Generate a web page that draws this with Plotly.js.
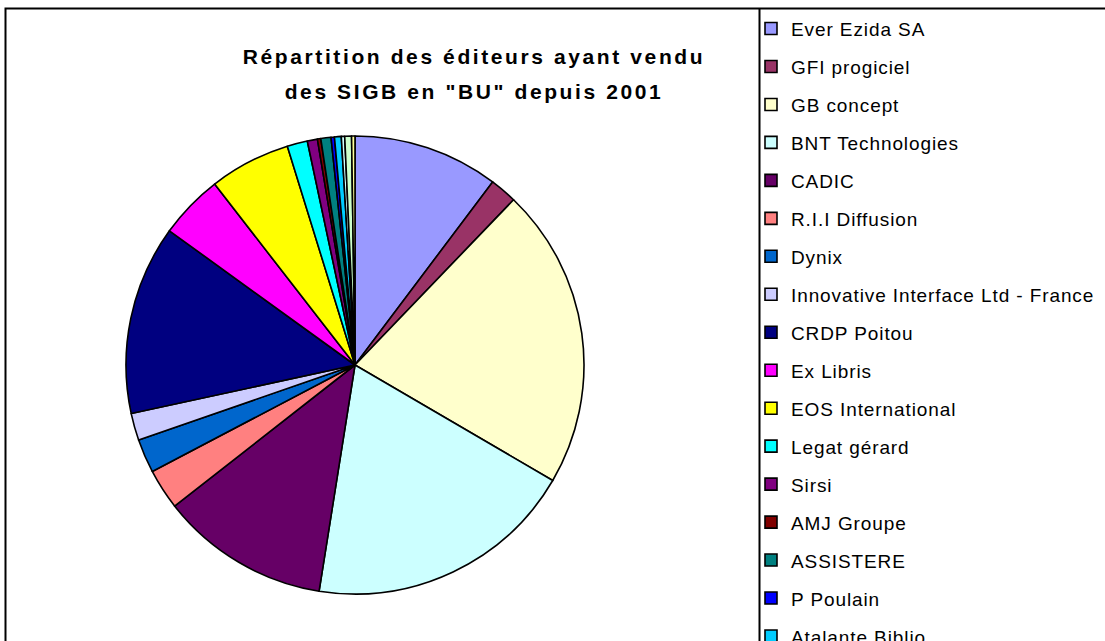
<!DOCTYPE html>
<html>
<head>
<meta charset="utf-8">
<script src="https://cdn.plot.ly/plotly-3.0.1.min.js"></script>
<style>
html, body { margin:0; padding:0; background:#ffffff; overflow:hidden; }
#clip { width:1105px; height:641px; overflow:hidden; position:relative; background:#fff; }
#chart { width:1200px; height:900px; }
</style>
</head>
<body>
<div id="clip"><div id="chart"></div></div>
<script>
// ---- Data ----
const editeurs = [
  "Ever Ezida SA", "GFI progiciel", "GB concept", "BNT Technologies", "CADIC",
  "R.I.I Diffusion", "Dynix", "Innovative Interface Ltd - France", "CRDP Poitou",
  "Ex Libris", "EOS International", "Legat gérard", "Sirsi", "AMJ Groupe",
  "ASSISTERE", "P Poulain", "Atalante Biblio", "Autre éditeur 1", "Autre éditeur 2", "Autre éditeur 3"
];
const ventes = [43, 8, 89, 80, 50, 12, 10, 8, 56, 19, 24, 6, 3, 1, 3, 1, 2, 1, 2, 1];
const couleurs = [
  "#9999FF", "#993366", "#FFFFCC", "#CCFFFF", "#660066",
  "#FF8080", "#0066CC", "#CCCCFF", "#000080", "#FF00FF",
  "#FFFF00", "#00FFFF", "#800080", "#800000", "#008080",
  "#0000FF", "#00CCFF", "#CCFFFF", "#CCFFCC", "#FFFF99"
];
const titreLignes = ['Répartition des éditeurs ayant vendu', 'des SIGB en "BU" depuis 2001'];

// ---- Layout helpers (figure is 1200x900 with zero margins; viewport clips it) ----
const W = 1200, H = 900;
const px = x => x / W;
const py = y => 1 - y / H;
const FONT = '"Liberation Sans", Arial, sans-serif';

const legendLabels = editeurs.map(n =>
  '<span style="font-size:19px;letter-spacing:0.9px;baseline-shift:3px">' + n + '</span>');
const titleText = titreLignes.map(t =>
  '<span style="font-size:21px;letter-spacing:2.6px">' + t + '</span>').join('<br>');

const trace = {
  type: 'pie',
  labels: legendLabels,
  values: ventes,
  sort: false,
  direction: 'clockwise',
  rotation: 0,
  textinfo: 'none',
  hoverinfo: 'none',
  marker: { colors: couleurs, line: { color: '#000000', width: 1.6 } },
  domain: { x: [px(126), px(584)], y: [py(594), py(136)] }
};

const layout = {
  width: W, height: H,
  margin: { l: 0, r: 0, t: 0, b: 0, pad: 0 },
  paper_bgcolor: '#ffffff',
  plot_bgcolor: '#ffffff',
  font: { family: FONT, color: '#000000' },
  title: {
    text: titleText,
    font: { family: FONT, size: 27, color: '#000000', weight: 700 },
    xref: 'paper', yref: 'container',
    x: px(474), xanchor: 'center',
    y: py(64), yanchor: 'top'
  },
  showlegend: true,
  legend: {
    x: px(751), xanchor: 'left', xref: 'paper',
    y: py(4.5), yanchor: 'top', yref: 'paper',
    font: { family: FONT, size: 26.9, color: '#000000' },
    bgcolor: 'rgba(0,0,0,0)',
    borderwidth: 0,
    traceorder: 'normal'
  },
  shapes: [
    { type: 'rect', xref: 'paper', yref: 'paper',
      x0: px(5.5), x1: px(1190), y0: py(8.5), y1: py(890),
      line: { color: '#000000', width: 2 }, fillcolor: 'rgba(0,0,0,0)' },
    { type: 'line', xref: 'paper', yref: 'paper',
      x0: px(759.5), x1: px(759.5), y0: py(8.5), y1: py(890),
      line: { color: '#000000', width: 2 } }
  ]
};

Plotly.newPlot('chart', [trace], layout, { displayModeBar: false, staticPlot: true });
</script>
</body>
</html>
